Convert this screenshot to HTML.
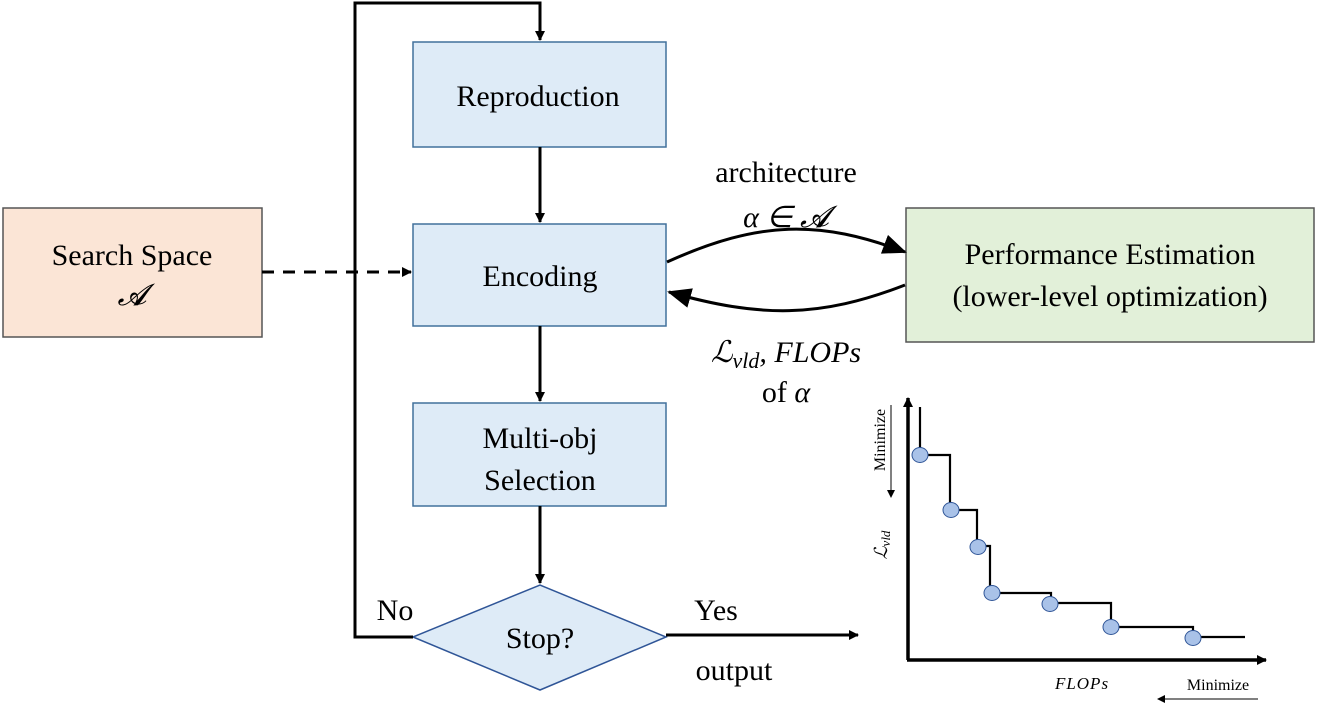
<!DOCTYPE html>
<html><head><meta charset="utf-8"><style>
html,body{margin:0;padding:0;background:#fff;}
svg{display:block;font-family:"Liberation Serif",serif;}
</style></head><body>
<svg width="1318" height="714" viewBox="0 0 1318 714" xmlns="http://www.w3.org/2000/svg">
<defs>
<marker id="a" markerWidth="10" markerHeight="10" refX="9" refY="5" orient="auto" markerUnits="userSpaceOnUse"><path d="M0,0 L10,5 L0,10 z" fill="#000"/></marker>
<marker id="b" markerWidth="24" markerHeight="20" refX="22" refY="10" orient="auto" markerUnits="userSpaceOnUse"><path d="M0,0 L24,10 L0,20 z" fill="#000"/></marker>
<marker id="s" markerWidth="8" markerHeight="8" refX="7" refY="4" orient="auto" markerUnits="userSpaceOnUse"><path d="M0,0 L8,4 L0,8 z" fill="#000"/></marker>
</defs>
<g stroke="#41719c" stroke-width="1.5">
<rect x="413" y="42" width="253" height="105" fill="#deebf7"/>
<rect x="413" y="224" width="253" height="102" fill="#deebf7"/>
<rect x="413" y="403" width="253" height="103" fill="#deebf7"/>
<polygon points="413,637 540,585 666,637 540,690" fill="#deebf7" stroke="#2f5597"/>
</g>
<rect x="3" y="208" width="259" height="129" fill="#fbe5d6" stroke="#555" stroke-width="1.5"/>
<rect x="906" y="208" width="408" height="134" fill="#e2f0d9" stroke="#555" stroke-width="1.5"/>
<g stroke="#000" stroke-width="3" fill="none">
<polyline points="413,637 355,637 355,3 540,3 540,40" marker-end="url(#a)"/>
<line x1="540" y1="147" x2="540" y2="222" marker-end="url(#a)"/>
<line x1="540" y1="326" x2="540" y2="401" marker-end="url(#a)"/>
<line x1="540" y1="506" x2="540" y2="583" marker-end="url(#a)"/>
<line x1="666" y1="635" x2="858" y2="635" marker-end="url(#a)"/>
<line x1="262" y1="272" x2="411" y2="272" stroke-dasharray="12,9" marker-end="url(#a)"/>
<path d="M667,262 C760,220 820,220 905,252" marker-end="url(#b)"/>
<path d="M905,285 C820,318 760,318 669,292" marker-end="url(#b)"/>
</g>
<g font-size="30" text-anchor="middle" fill="#000">
<text x="538" y="106">Reproduction</text>
<text x="540" y="286">Encoding</text>
<text x="540" y="448">Multi-obj</text>
<text x="540" y="490">Selection</text>
<text x="540" y="648">Stop?</text>
<text x="132" y="265">Search Space</text>
<text x="132" y="305" font-style="italic">𝓐</text>
<text x="1110" y="264">Performance Estimation</text>
<text x="1110" y="306">(lower-level optimization)</text>
<text x="786" y="182">architecture</text>
<text x="786" y="227" font-style="italic">α ∈ 𝓐</text>
<text x="786" y="362" font-style="italic">ℒ<tspan font-size="22" dy="6">vld</tspan><tspan dy="-6">, FLOPs</tspan></text>
<text x="786" y="402">of <tspan font-style="italic">α</tspan></text>
<text x="395" y="620">No</text>
<text x="716" y="620">Yes</text>
<text x="734" y="680">output</text>
</g>
<g stroke="#000" fill="none">
<line x1="908" y1="660" x2="908" y2="398" stroke-width="3.5" marker-end="url(#a)"/>
<line x1="907" y1="660" x2="1266" y2="660" stroke-width="3.5" marker-end="url(#a)"/>
<polyline stroke-width="2.2" points="920,407 920,455 950,455 950,510 977,510 977,546 990,546 990,593 1051,593 1051,603 1111,603 1111,627 1193,627 1193,637 1245,637"/>
<line x1="891" y1="405" x2="891" y2="497" stroke-width="1" marker-end="url(#s)"/>
<line x1="1258" y1="699" x2="1158" y2="699" stroke-width="1" marker-end="url(#s)"/>
</g>
<g fill="#a9c2e8" stroke="#2f5597" stroke-width="1">
<ellipse cx="920" cy="455" rx="8" ry="7.5"/>
<ellipse cx="951" cy="510" rx="8" ry="7.5"/>
<ellipse cx="978" cy="547" rx="8" ry="7.5"/>
<ellipse cx="992" cy="593" rx="8" ry="7.5"/>
<ellipse cx="1050" cy="604" rx="8" ry="7.5"/>
<ellipse cx="1111" cy="627" rx="8" ry="7.5"/>
<ellipse cx="1193" cy="638" rx="8" ry="7.5"/>
</g>
<text x="1082" y="689" font-size="17" font-style="italic" text-anchor="middle" letter-spacing="1">FLOPs</text>
<text x="1218" y="690" font-size="16" text-anchor="middle">Minimize</text>
<text transform="translate(885,440) rotate(-90)" font-size="16" text-anchor="middle">Minimize</text>
<text transform="translate(887,545) rotate(-90)" font-size="18" font-style="italic" text-anchor="middle">ℒ<tspan font-size="13" dy="3">vld</tspan></text>
</svg>
</body></html>
